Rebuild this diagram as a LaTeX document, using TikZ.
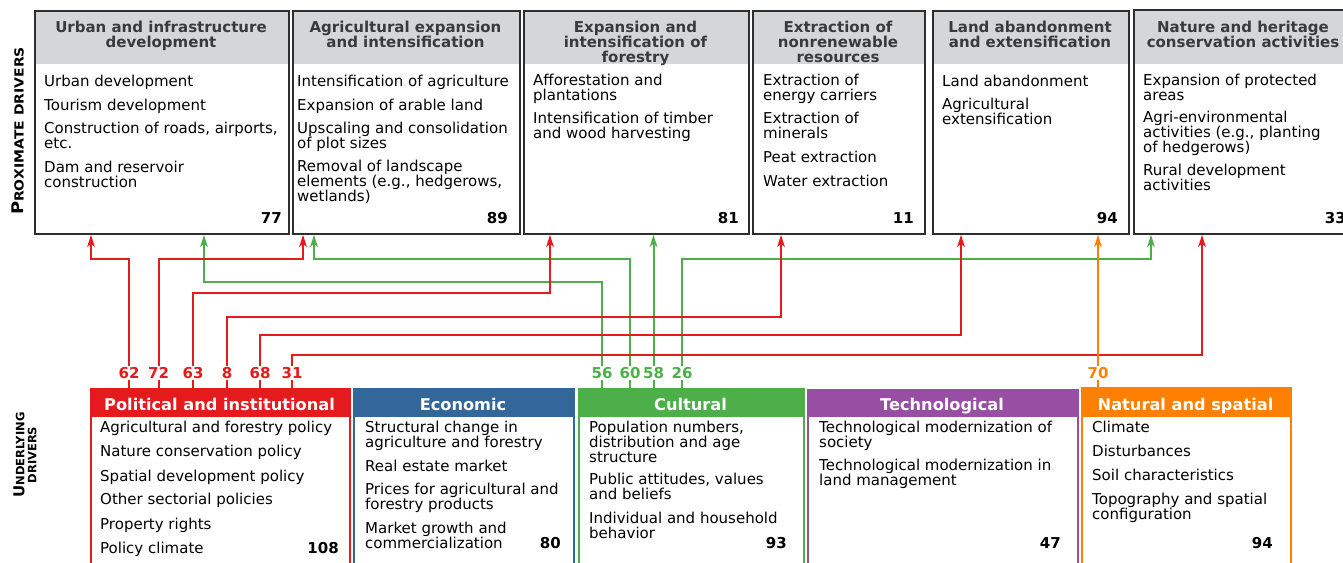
\documentclass[tikz,border=0pt]{standalone}
\usepackage{fontspec}
\setmainfont{DejaVu Sans}
\newfontfamily\widef{DejaVu Sans}[FakeStretch=1.12]
\usetikzlibrary{arrows.meta}
\definecolor{cR}{HTML}{E41A1C}
\definecolor{cG}{HTML}{4DAF4A}
\definecolor{cB}{HTML}{336699}
\definecolor{cP}{HTML}{984EA3}
\definecolor{cO}{HTML}{FF7F00}
\definecolor{hdrgray}{HTML}{D5D6D7}
\definecolor{hdrtext}{HTML}{3A3A3A}
\definecolor{boxline}{HTML}{2E2E2E}
\newcounter{tn}
% #1 x, #2 baseline of the LAST line, #3 text
\newcommand\itm[3]{\stepcounter{tn}\node[body] (txt\arabic{tn}) at (#1,#2) {#3};}
\tikzset{
  conn/.style={line width=2pt, -{Stealth[length=12pt,width=7.5pt,inset=3pt]}},
  tickline/.style={line width=2pt},
  pbox/.style={draw=boxline, line width=1.8pt, anchor=north west, inner sep=0pt},
  ubox/.style={draw=#1, line width=2pt, anchor=north west, inner sep=0pt, minimum height=192pt},
  ptitle/.style={anchor=base, align=center, inner sep=0pt, text=hdrtext,
    font=\fontsize{15}{15}\selectfont\bfseries},
  utitle/.style={anchor=base, inner sep=0pt, text=white,
    font=\fontsize{16.2}{17}\selectfont\bfseries},
  body/.style={anchor=base west, align=left, inner sep=0pt,
    font=\fontsize{15}{15}\selectfont},
  num/.style={anchor=base east, inner sep=0pt, font=\fontsize{15}{15}\selectfont\bfseries},
  lab/.style={inner sep=1.5pt, font=\fontsize{15}{16}\selectfont\bfseries},
}
\begin{document}
\begin{tikzpicture}[x=1pt,y=-1pt]
\path[use as bounding box] (0,0) rectangle (1343,562);
\clip (0,0) rectangle (1343,562);

% ---------- proximate driver boxes ----------
\fill[hdrgray] (34,10) rectangle (288,64);
\fill[hdrgray] (292,10) rectangle (519,64);
\fill[hdrgray] (523,10) rectangle (748,64);
\fill[hdrgray] (752,10) rectangle (924,64);
\fill[hdrgray] (932,10) rectangle (1128,64);
\fill[hdrgray] (1133,9) rectangle (1353,64);
\node[pbox, minimum width=254pt, minimum height=223pt] (p1) at (34,10) {};
\node[pbox, minimum width=227pt, minimum height=223pt] (p2) at (292,10) {};
\node[pbox, minimum width=225pt, minimum height=223pt] (p3) at (523,10) {};
\node[pbox, minimum width=172pt, minimum height=223pt] (p4) at (752,10) {};
\node[pbox, minimum width=196pt, minimum height=223pt] (p5) at (932,10) {};
\node[pbox, minimum width=220pt, minimum height=224pt] (p6) at (1133,9) {};

\node[ptitle] (p1t) at (161,47) {Urban and infrastructure\\development};
\node[ptitle] (p2t) at (405.5,47) {Agricultural expansion\\and intensification};
\node[ptitle] (p3t) at (635.5,62) {Expansion and\\intensification of\\forestry};
\node[ptitle] (p4t) at (838,62) {Extraction of\\nonrenewable\\resources};
\node[ptitle] (p5t) at (1030,47) {Land abandonment\\and extensification};
\node[ptitle] (p6t) at (1243,47) {Nature and heritage\\conservation activities};

\itm{44}{86}{Urban development}
\itm{44}{110}{Tourism development}
\itm{44}{148}{Construction of roads, airports,\\etc.}
\itm{44}{187}{Dam and reservoir\\construction}
\node[num] (p1n) at (282,223.5) {77};

\itm{297}{86}{Intensification of agriculture}
\itm{297}{110}{Expansion of arable land}
\itm{297}{148}{Upscaling and consolidation\\of plot sizes}
\itm{297}{201}{Removal of landscape\\elements (e.g., hedgerows,\\wetlands)}
\node[num] (p2n) at (508,223.5) {89};

\itm{533}{100}{Afforestation and\\plantations}
\itm{533}{138}{Intensification of timber\\and wood harvesting}
\node[num] (p3n) at (739,223.5) {81};

\itm{763}{100}{Extraction of\\energy carriers}
\itm{763}{138}{Extraction of\\minerals}
\itm{763}{162}{Peat extraction}
\itm{763}{186}{Water extraction}
\node[num] (p4n) at (914,223.5) {11};

\itm{942}{86}{Land abandonment}
\itm{942}{124}{Agricultural\\extensification}
\node[num] (p5n) at (1118,223.5) {94};

\itm{1143}{100}{Expansion of protected\\areas}
\itm{1143}{152.5}{Agri-environmental\\activities (e.g., planting\\of hedgerows)}
\itm{1143}{190.5}{Rural development\\activities}
\node[num] (p6n) at (1346,223.5) {33};

% ---------- underlying driver boxes ----------
\fill[cR] (90,388) rectangle (349,417);
\fill[cB] (353,388) rectangle (573,417);
\fill[cG] (578,388) rectangle (803,417);
\fill[cP] (807,389) rectangle (1077,417);
\fill[cO] (1081,387) rectangle (1290,417);
\node[ubox=cR, minimum width=259pt] (u1) at (90,388) {};
\node[ubox=cB, minimum width=220pt] (u2) at (353,388) {};
\node[ubox=cG, minimum width=225pt] (u3) at (578,388) {};
\node[ubox=cP, minimum width=270pt] (u4) at (807,389) {};
\node[ubox=cO, minimum width=209pt] (u5) at (1081,387) {};

\node[utitle] (u1t) at (219.5,410.5) {Political and institutional};
\node[utitle] (u2t) at (463,410.5) {Economic};
\node[utitle] (u3t) at (690.5,410.5) {Cultural};
\node[utitle] (u4t) at (942,410.5) {Technological};
\node[utitle] (u5t) at (1185.5,410.5) {Natural and spatial};

\itm{100}{432}{Agricultural and forestry policy}
\itm{100}{456}{Nature conservation policy}
\itm{100}{481}{Spatial development policy}
\itm{100}{504.5}{Other sectorial policies}
\itm{100}{529}{Property rights}
\itm{100}{553}{Policy climate}
\node[num] (u1n) at (339,553.5) {108};

\itm{365}{447}{Structural change in\\agriculture and forestry}
\itm{365}{471}{Real estate market}
\itm{365}{509}{Prices for agricultural and\\forestry products}
\itm{365}{548}{Market growth and\\commercialization}
\node[num] (u2n) at (561,548.5) {80};

\itm{589}{462}{Population numbers,\\distribution and age\\structure}
\itm{589}{499}{Public attitudes, values\\and beliefs}
\itm{589}{538}{Individual and household\\behavior}
\node[num] (u3n) at (787,548.5) {93};

\itm{819}{447}{Technological modernization of\\society}
\itm{819}{485}{Technological modernization in\\land management}
\node[num] (u4n) at (1061,548.5) {47};

\itm{1092}{432}{Climate}
\itm{1092}{456}{Disturbances}
\itm{1092}{480}{Soil characteristics}
\itm{1092}{519}{Topography and spatial\\configuration}
\node[num] (u5n) at (1273,548.5) {94};

% ---------- side labels ----------
\node[rotate=90, inner sep=0pt, font=\widef\bfseries] (pd) at (18,131)
  {{\fontsize{16}{16}\selectfont P}{\fontsize{12.5}{13}\selectfont ROXIMATE DRIVERS}};
\node[rotate=90, inner sep=0pt, align=center, font=\bfseries] (ud) at (25,455)
  {{\fontsize{15}{15}\selectfont U}{\fontsize{11.5}{12}\selectfont NDERLYING}\\{\fontsize{11.5}{12}\selectfont DRIVERS}};

% ---------- count labels ----------
\node[lab, text=cR] (l62) at (129,373) {62};
\node[lab, text=cR] (l72) at (158.5,373) {72};
\node[lab, text=cR] (l63) at (193,373) {63};
\node[lab, text=cR] (l8)  at (227,373) {8};
\node[lab, text=cR] (l68) at (260,373) {68};
\node[lab, text=cR] (l31) at (292,373) {31};
\node[lab, text=cG] (l56) at (602,373) {56};
\node[lab, text=cG] (l60) at (630,373) {60};
\node[lab, text=cG] (l58) at (653.5,373) {58};
\node[lab, text=cG] (l26) at (682,373) {26};
\node[lab, text=cO] (l70) at (1098,373) {70};

% ticks from labels to header bars
\foreach \l in {l62,l72,l63,l8,l68,l31}
  \draw[tickline, cR] (\l.south) -- (\l |- u1.north);
\foreach \l in {l56,l60,l58,l26}
  \draw[tickline, cG] (\l.south) -- (\l |- u3.north);
\draw[tickline, cO] (l70.south) -- (l70 |- u5.north);

% ---------- connectors ----------
\draw[conn, cG] (l56.north) |- (204,282) -- (204,0 |- p1.south);
\draw[conn, cG] (l60.north) |- (314,258.7) -- (314,0 |- p2.south);
\draw[conn, cG] (l58.north) -- (l58 |- p3.south);
\draw[conn, cG] (l26.north) |- (1151,258.7) -- (1151,0 |- p6.south);
\draw[conn, cR] (l62.north) |- (91,258.7) -- (91,0 |- p1.south);
\draw[conn, cR] (l72.north) |- (303,258.7) -- (303,0 |- p2.south);
\draw[conn, cR] (l63.north) |- (550,292.7) -- (550,0 |- p3.south);
\draw[conn, cR] (l8.north)  |- (781,316.7) -- (781,0 |- p4.south);
\draw[conn, cR] (l68.north) |- (961,335) -- (961,0 |- p5.south);
\draw[conn, cR] (l31.north) |- (1202,354.7) -- (1202,0 |- p6.south);
\draw[conn, cO] (l70.north) -- (l70 |- p5.south);
\end{tikzpicture}
\end{document}
